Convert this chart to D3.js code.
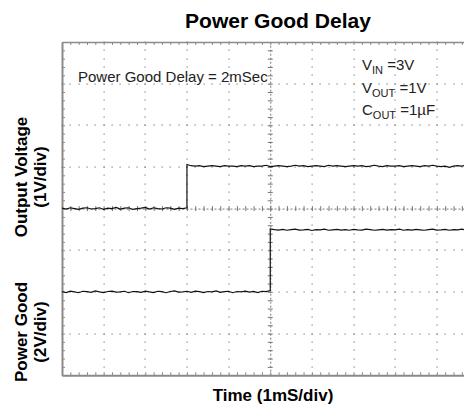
<!DOCTYPE html>
<html><head><meta charset="utf-8">
<script src="https://cdn.jsdelivr.net/npm/d3@7"></script>
<style>html,body{margin:0;padding:0;background:#fff;} svg{display:block;font-family:"Liberation Sans",Arial,Helvetica,sans-serif;}</style>
</head><body>
<svg id="c" width="464" height="409"></svg>
<script>
// ---- data ----
const title = "Power Good Delay";
const xLabel = "Time (1mS/div)";
const yLabelsTop = ["Output Voltage", "(1V/div)"];
const yLabelsBottom = ["Power Good", "(2V/div)"];
const annotation = "Power Good Delay = 2mSec";
const conditions = [["V", "IN", " =3V"], ["V", "OUT", " =1V"], ["C", "OUT", " =1\u00b5F"]];
const timeDomain = [-5, 5];      // ms (1 ms/div)
const divDomain = [-4, 4];       // vertical divisions
const sampleStep = 0.1;          // ms between samples
const voutStepTime = -2;         // ms
const pgStepTime = 0;            // ms
const voutVoltsPerDiv = 1, voutGroundDiv = 0;
const pgVoltsPerDiv = 2, pgGroundDiv = -2;
const voutLow = [0.01,-0.01,0.02,0.00,-0.02,0.01,0.02,-0.01,0.00,0.02,-0.02,0.01,0.00,0.03,-0.01,0.01,0.02,-0.02,0.00,0.01,0.03,-0.01,0.02,0.00,-0.01,0.02,0.01,-0.02,0.01,0.00,0.02];
const voutHigh = [1.06,1.03,1.02,1.03,1.01,1.02,1.03,1.02,1.01,1.03,1.02,1.02,1.01,1.03,1.02,1.03,1.01,1.02,1.02,1.04,1.01,1.02,1.03,1.02,1.01,1.02,1.04,1.02,1.03,1.01,1.02,1.03,1.02,1.01,1.04,1.02,1.03,1.02,1.01,1.02,1.03,1.02,1.03,1.01,1.02,1.04,1.02,1.01,1.03,1.02,1.02,1.03,1.01,1.02,1.03,1.02,1.01,1.03,1.02,1.04,1.02,1.01,1.02,0.99,1.02,1.03,1.02,1.04,1.02,1.03,1.02];
const pgLow = [0.02,-0.03,0.04,0.00,-0.04,0.03,0.01,-0.02,0.05,0.00,-0.03,0.02,0.04,-0.01,0.00,0.03,-0.04,0.02,0.01,-0.02,0.04,0.00,-0.03,0.03,0.01,-0.04,0.02,0.05,-0.01,0.00,0.03,-0.02,0.04,0.01,-0.03,0.02,0.00,0.05,-0.02,0.01,0.03,-0.04,0.02,0.00,0.04,-0.01,0.02,-0.03,0.03,0.01,0.06];
const pgHigh = [3.02,2.99,2.97,3.00,2.96,2.99,3.01,2.97,2.98,3.00,2.95,2.99,2.98,3.01,2.96,2.98,3.00,2.97,2.99,2.96,3.00,2.98,2.97,3.01,2.99,2.96,2.98,3.00,2.97,2.99,2.98,3.01,2.96,2.99,2.97,3.00,2.98,2.96,2.99,3.01,2.97,2.98,3.00,2.96,2.99,2.98,3.01,2.97,2.99,2.98,3.00];

// ---- layout ----
const pL = 62, pT = 42, divPx = 41.65;
const pR = pL + 10 * divPx, pB = pT + 8 * divPx;
const svg = d3.select("#c");
const x = d3.scaleLinear().domain(timeDomain).range([pL, pR]);
const y = d3.scaleLinear().domain(divDomain).range([pB, pT]);
const gridColor = "#808080", borderColor = "#8a8a8a";

svg.append("defs").append("clipPath").attr("id", "clip")
  .append("rect").attr("x", pL).attr("y", pT).attr("width", pR - pL).attr("height", pB - pT);

// grid dots
const xMinor = d3.range(0, 51).map(i => timeDomain[0] + i * 0.2);
const yMinor = d3.range(0, 41).map(i => divDomain[0] + i * 0.2);
const xMajor = d3.range(-4, 5).filter(v => v !== 0);
const yMajor = d3.range(-3, 4).filter(v => v !== 0);
const dots = [];
xMajor.forEach(xv => yMinor.forEach(yv => dots.push([x(xv), y(yv)])));
yMajor.forEach(yv => xMinor.forEach(xv => dots.push([x(xv), y(yv)])));
svg.append("g").selectAll("rect").data(dots).join("rect")
  .attr("x", d => Math.round(d[0]) - 0.5).attr("y", d => Math.round(d[1]) - 0.5)
  .attr("width", 1.2).attr("height", 1.2).attr("fill", gridColor);

// center axes
const cx = svg.append("g").attr("transform", `translate(0,${y(0)})`).attr("color", "#777")
  .call(d3.axisBottom(x).tickValues(xMinor).tickSize(5).tickSizeOuter(0).tickFormat(() => ""));
cx.selectAll(".tick line").attr("transform", "translate(0,-2.5)");
cx.select(".domain").attr("stroke-dasharray", "2,2");
const cy = svg.append("g").attr("transform", `translate(${x(0)},0)`).attr("color", "#777")
  .call(d3.axisLeft(y).tickValues(yMinor).tickSize(5).tickSizeOuter(0).tickFormat(() => ""));
cy.selectAll(".tick line").attr("transform", "translate(2.5,0)");
cy.select(".domain").attr("stroke-dasharray", "2,2");

// border axes
svg.append("g").attr("transform", `translate(0,${pT})`).attr("color", borderColor)
  .call(d3.axisTop(x).tickValues(xMinor).tickSize(-3).tickSizeOuter(0).tickFormat(() => ""))
  .select(".domain").attr("stroke-width", 1.5);
svg.append("g").attr("transform", `translate(0,${pB})`).attr("color", borderColor)
  .call(d3.axisBottom(x).tickValues(xMinor).tickSize(-3).tickSizeOuter(0).tickFormat(() => ""))
  .select(".domain").attr("stroke-width", 2);
svg.append("g").attr("transform", `translate(${pL},0)`).attr("color", borderColor)
  .call(d3.axisLeft(y).tickValues(yMinor).tickSize(-3).tickSizeOuter(0).tickFormat(() => ""))
  .select(".domain").attr("stroke-width", 2);

// traces
function trace(low, high, stepT, vPerDiv, gnd) {
  return low.map((v, i) => ({ t: timeDomain[0] + i * sampleStep, d: v / vPerDiv + gnd }))
    .concat(high.map((v, i) => ({ t: stepT + i * sampleStep, d: v / vPerDiv + gnd })));
}
const line = d3.line().x(p => x(p.t)).y(p => y(p.d));
const traces = [
  trace(voutLow, voutHigh, voutStepTime, voutVoltsPerDiv, voutGroundDiv),
  trace(pgLow, pgHigh, pgStepTime, pgVoltsPerDiv, pgGroundDiv)
];
svg.append("g").attr("clip-path", "url(#clip)").selectAll("path").data(traces).join("path")
  .attr("d", line).attr("fill", "none").attr("stroke", "#111").attr("stroke-width", 1.2);

// texts
svg.append("text").attr("x", 278).attr("y", 28).attr("text-anchor", "middle")
  .attr("font-size", 20).attr("font-weight", "bold")
  .attr("textLength", 186).attr("lengthAdjust", "spacingAndGlyphs").text(title);
svg.append("text").attr("x", 273).attr("y", 401).attr("text-anchor", "middle")
  .attr("font-size", 17).attr("font-weight", "bold").text(xLabel);
function yLab(lines, cyPos) {
  const g = svg.append("g").attr("transform", `translate(27,${cyPos}) rotate(-90)`);
  g.selectAll("text").data(lines).join("text")
    .attr("x", 0).attr("y", (d, i) => i * 19).attr("text-anchor", "middle")
    .attr("font-size", 17).attr("font-weight", "bold").text(d => d);
}
yLab(yLabelsTop, 177);
yLab(yLabelsBottom, 332);
svg.append("text").attr("x", 78).attr("y", 82).attr("font-size", 15).attr("fill", "#222").text(annotation);
const ct = svg.append("g").selectAll("text").data(conditions).join("text")
  .attr("x", 362).attr("y", (d, i) => 70 + i * 22.5).attr("font-size", 15).attr("fill", "#222");
ct.append("tspan").text(d => d[0]);
ct.append("tspan").attr("font-size", 11).attr("dy", 4).text(d => d[1]);
ct.append("tspan").attr("dy", -4).text(d => d[2]);
</script>
</body></html>
